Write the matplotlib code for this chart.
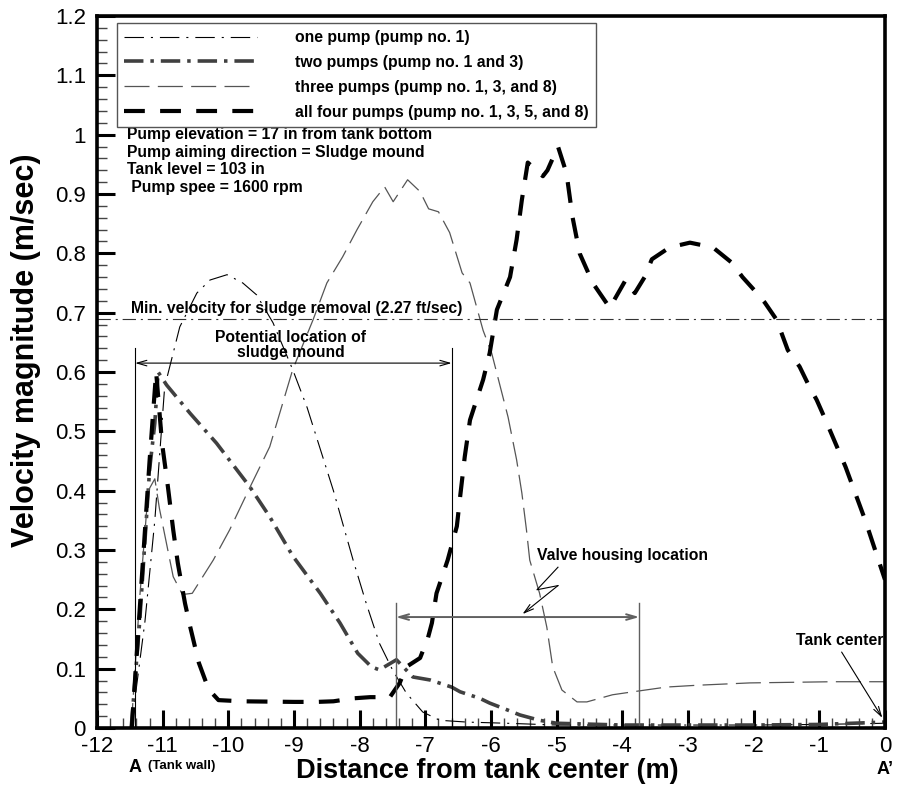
import matplotlib
matplotlib.use("Agg")
import matplotlib.pyplot as plt
import matplotlib.transforms as mtransforms
from matplotlib.ticker import MultipleLocator, FuncFormatter

plt.rcParams["font.family"] = ["Liberation Sans", "DejaVu Sans"]
plt.rcParams["axes.unicode_minus"] = False
plt.rcParams["lines.scale_dashes"] = False

# distance from tank center (m) / velocity magnitude (m/sec)
one_x = [-11.48, -11.27, -11.12, -10.97, -10.74, -10.48, -10.28, -10.02, -9.78,
         -9.57, -9.32, -9.02, -8.8, -8.4, -8.1, -7.9, -7.7, -7.5, -7.29, -7.04,
         -6.78, -6.37, -5.76, -5.0, -4.0, -3.0, -2.0, -1.0, 0.0]
one_y = [0.0, 0.18, 0.35, 0.575, 0.676, 0.733, 0.755, 0.764, 0.75,
         0.73, 0.683, 0.604, 0.54, 0.40, 0.283, 0.21, 0.143, 0.098, 0.059, 0.027,
         0.013, 0.01, 0.008, 0.005, 0.005, 0.005, 0.005, 0.006, 0.008]

two_x = [-11.48, -11.35, -11.2, -11.12, -11.07, -10.94, -10.58, -10.18, -9.67,
         -9.37, -9.02, -8.86, -8.6, -8.3, -8.03, -7.82, -7.7, -7.44, -7.19, -6.93,
         -6.6, -6.47, -6.17, -6.02, -5.74, -5.56, -5.26, -5.0, -4.0, -3.0, -2.0,
         -1.0, -0.5, 0.0]
two_y = [0.0, 0.18, 0.435, 0.514, 0.6, 0.578, 0.53, 0.48, 0.406,
         0.356, 0.29, 0.266, 0.227, 0.177, 0.126, 0.103, 0.098, 0.115, 0.086, 0.081,
         0.069, 0.061, 0.05, 0.042, 0.03, 0.022, 0.013, 0.008, 0.005, 0.005, 0.005,
         0.006, 0.008, 0.01]

three_x = [-11.48, -11.35, -11.22, -11.12, -11.05, -10.84, -10.7, -10.55, -10.23,
           -9.98, -9.67, -9.37, -9.02, -8.71, -8.5, -8.26, -8.04, -7.8, -7.62,
           -7.49, -7.27, -7.08, -6.95, -6.8, -6.63, -6.44, -6.32, -6.12, -5.99,
           -5.74, -5.61, -5.53, -5.46, -5.41, -5.26, -5.15, -5.06, -4.92, -4.69,
           -4.54, -4.15, -3.84, -3.33, -2.87, -2.06, -0.8, 0.0]
three_y = [0.0, 0.22, 0.40, 0.42, 0.37, 0.255, 0.225, 0.227, 0.283,
           0.334, 0.406, 0.474, 0.604, 0.688, 0.75, 0.794, 0.84, 0.887, 0.912,
           0.887, 0.924, 0.904, 0.875, 0.87, 0.835, 0.767, 0.75, 0.67, 0.632,
           0.524, 0.452, 0.396, 0.334, 0.283, 0.227, 0.17, 0.103, 0.064, 0.044,
           0.044, 0.056, 0.061, 0.069, 0.072, 0.076, 0.078, 0.078]

four_x = [-11.47, -11.35, -11.2, -11.1, -11.01, -10.92, -10.84, -10.77, -10.66,
          -10.58, -10.45, -10.3, -10.15, -9.8, -9.0, -8.65, -8.4, -8.1, -7.84,
          -7.54, -7.39, -7.29, -7.08, -6.96, -6.9, -6.83, -6.66, -6.52, -6.47,
          -6.4, -6.32, -6.12, -6.02, -5.91, -5.71, -5.61, -5.53, -5.44, -5.21,
          -5.14, -4.98, -4.85, -4.76, -4.65, -4.45, -4.19, -4.12, -3.95, -3.81,
          -3.66, -3.55, -3.28, -2.97, -2.62, -2.33, -2.17, -1.95, -1.83, -1.65,
          -1.48, -1.3, -1.15, -1.04, -0.92, -0.6, -0.3, 0.0]
four_y = [0.0, 0.2, 0.45, 0.6, 0.48, 0.406, 0.334, 0.278, 0.21,
          0.17, 0.11, 0.065, 0.047, 0.045, 0.044, 0.044, 0.045, 0.05, 0.052,
          0.052, 0.076, 0.103, 0.118, 0.152, 0.177, 0.227, 0.283, 0.34, 0.39,
          0.457, 0.519, 0.587, 0.632, 0.705, 0.76, 0.823, 0.89, 0.953, 0.93,
          0.94, 0.98, 0.935, 0.862, 0.80, 0.75, 0.708, 0.722, 0.755, 0.733,
          0.76, 0.79, 0.81, 0.818, 0.81, 0.784, 0.76, 0.733, 0.717, 0.688,
          0.637, 0.609, 0.575, 0.553, 0.523, 0.44, 0.35, 0.25]

labels = ["one pump (pump no. 1)",
          "two pumps (pump no. 1 and 3)",
          "three pumps (pump no. 1, 3, and 8)",
          "all four pumps (pump no. 1, 3, 5, and 8)"]

min_velocity = 0.69
sludge_range = [-11.42, -6.6]
valve_range = [-7.45, -3.74]

info_lines = ["Pump elevation = 17 in from tank bottom",
              "Pump aiming direction = Sludge mound",
              "Tank level = 103 in",
              " Pump spee = 1600 rpm"]

fig = plt.figure(figsize=(9.01, 7.92), dpi=100)
ax = fig.add_axes([0.1077, 0.0808, 0.8745, 0.899])

ax.plot(one_x, one_y, color="black", lw=0.8, dashes=(14, 5, 1.5, 5),
        label=labels[0])
ax.plot(two_x, two_y, color="#404040", lw=2.6, dashes=(14, 5, 2.5, 5),
        label=labels[1])
ax.plot(three_x, three_y, color="#555555", lw=0.9, dashes=(18, 6),
        label=labels[2])
ax.plot(four_x, four_y, color="black", lw=3.0, dashes=(15, 11),
        label=labels[3])

ax.axhline(min_velocity, color="#333333", lw=0.8, dashes=(9.6, 3.5, 1.5, 3.5))

bold = dict(fontsize=11.3, fontweight="bold")

# potential sludge mound
for xv in sludge_range:
    ax.plot([xv, xv], [0, 0.64], color="black", lw=0.8)
ax.annotate("", xy=(sludge_range[0], 0.615), xytext=(sludge_range[1], 0.615),
            arrowprops=dict(arrowstyle="<->,head_length=0.7,head_width=0.2",
                            color="black", lw=0.8, shrinkA=0, shrinkB=0))
ax.text(-9.05, 0.646, "Potential location of\nsludge mound", ha="center",
        va="center", linespacing=1.0, **bold)

# valve housing
for xv in valve_range:
    ax.plot([xv, xv], [0, 0.21], color="#606060", lw=1.0)
ax.annotate("", xy=(valve_range[0], 0.187), xytext=(valve_range[1], 0.187),
            arrowprops=dict(arrowstyle="<->,head_length=0.7,head_width=0.2",
                            color="#606060", lw=1.4, shrinkA=0, shrinkB=0))
ax.text(-5.30, 0.29, "Valve housing location", ha="left", va="center", **bold)
ax.plot([-4.98, -5.30, -4.98], [0.271, 0.233, 0.24], color="black", lw=0.8)
ax.annotate("", xy=(-5.52, 0.192), xytext=(-4.98, 0.24),
            arrowprops=dict(arrowstyle="->,head_length=0.7,head_width=0.2",
                            color="black", lw=0.8, shrinkA=0, shrinkB=0))

# tank center
ax.text(-0.02, 0.148, "Tank center", ha="right", va="center", **bold)
ax.annotate("", xy=(-0.04, 0.017), xytext=(-0.66, 0.128),
            arrowprops=dict(arrowstyle="->,head_length=0.7,head_width=0.2",
                            color="black", lw=0.8, shrinkA=0, shrinkB=0))

ax.text(-11.48, 0.707, "Min. velocity for sludge removal (2.27 ft/sec)",
        ha="left", va="center", **bold)

info_y = [1.0, 0.97, 0.941, 0.911]
for txt, yv in zip(info_lines, info_y):
    ax.text(-11.54, yv, txt, ha="left", va="center", **bold)

# end labels under the axis
trans = mtransforms.blended_transform_factory(ax.transData, ax.transAxes)
ax.text(-11.42, -0.056, "A", transform=trans, ha="center", va="center",
        fontsize=13, fontweight="bold")
ax.text(-11.22, -0.053, "(Tank wall)", transform=trans, ha="left", va="center",
        fontsize=9.5, fontweight="bold")
ax.text(0.0, -0.058, "A\u2019", transform=trans, ha="center", va="center",
        fontsize=13, fontweight="bold")

ax.set_xlim(-12, 0)
ax.set_ylim(0, 1.2)
ax.xaxis.set_major_locator(MultipleLocator(1))
ax.xaxis.set_minor_locator(MultipleLocator(0.2))
ax.yaxis.set_major_locator(MultipleLocator(0.1))
ax.yaxis.set_minor_locator(MultipleLocator(0.02))
ax.yaxis.set_major_formatter(FuncFormatter(lambda v, p: f"{v:g}"))
ax.xaxis.set_major_formatter(FuncFormatter(lambda v, p: f"{v:g}"))

ax.tick_params(which="major", direction="in", length=13, width=2.2,
               labelsize=16, pad=6)
ax.tick_params(which="minor", direction="in", length=7, width=1.0,
               color="#444444")
ax.tick_params(axis="y", which="major", pad=8)
for s in ax.spines.values():
    s.set_linewidth(2.6)

ax.set_xlabel("Distance from tank center (m)", fontsize=19.5,
              fontweight="bold")
ax.set_ylabel("Velocity magnitude (m/sec)", fontsize=22, fontweight="bold")
ax.xaxis.set_label_coords(0.495, -0.042)
ax.yaxis.set_label_coords(-0.071, 0.53)

leg = ax.legend(loc="upper left", bbox_to_anchor=(117 / 901, 1 - 23 / 792),
                bbox_transform=fig.transFigure, frameon=True, fancybox=False,
                prop=dict(size=11.3, weight="bold"), handlelength=8.5,
                handletextpad=2.4, borderpad=0.45, labelspacing=0.63,
                borderaxespad=0)
leg.get_frame().set_edgecolor("#555555")
leg.get_frame().set_linewidth(1.0)
leg.get_frame().set_alpha(1)

fig.savefig("out.png", dpi=100)
